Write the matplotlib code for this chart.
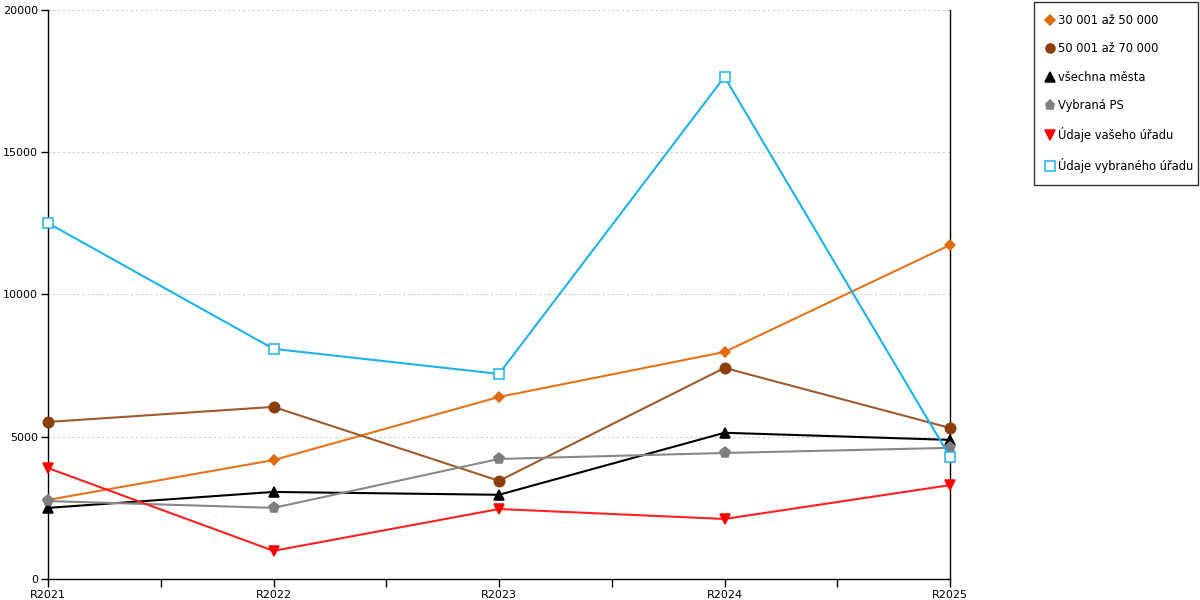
import matplotlib
matplotlib.use("Agg")
import matplotlib.pyplot as plt
from matplotlib.lines import Line2D

categories = ["R2021", "R2022", "R2023", "R2024", "R2025"]
s_30_50 = [2780, 4180, 6400, 7980, 11740]
s_50_70 = [5520, 6050, 3450, 7420, 5310]
s_vsechna = [2500, 3060, 2960, 5140, 4890]
s_vybrana_ps = [2740, 2500, 4220, 4430, 4610]
s_vaseho = [3900, 990, 2460, 2110, 3300]
s_vybraneho = [12510, 8090, 7210, 17650, 4290]

labels = ["30 001 až 50 000", "50 001 až 70 000", "všechna města",
          "Vybraná PS", "Údaje vašeho úřadu", "Údaje vybraného úřadu"]

plt.rcParams['font.family'] = ['DejaVu Sans']
fig = plt.figure(figsize=(12, 6), dpi=100)
ax = fig.add_axes([48/1200, 1-579/600, (950-48)/1200, (579-10)/600])

x = list(range(len(categories)))
styles = [
    (s_30_50, '#E8731A', '#E06A10', 'D', 5.5, 'full'),
    (s_50_70, '#A05A2C', '#8B4009', 'o', 7.5, 'full'),
    (s_vsechna, '#000000', '#000000', '^', 7.5, 'full'),
    (s_vybrana_ps, '#888888', '#7F7F7F', 'p', 8, 'full'),
    (s_vaseho, '#FF2020', '#FF0000', 'v', 7.5, 'full'),
    (s_vybraneho, '#1AB4EA', '#1AB4EA', 's', 6.5, 'none'),
]
handles = []
for (vals, lc, mc, mk, ms, fill), lab in zip(styles, labels):
    mfc = mc if fill == 'full' else 'white'
    ax.plot(x, vals, color=lc, lw=1.5, marker=mk, ms=ms, mfc=mfc, mec=mc,
            mew=1.1, clip_on=False, zorder=3)
    handles.append(Line2D([], [], ls='none', marker=mk, ms=min(ms, 6.5),
                          mfc=mfc, mec=mc, mew=1.1, label=lab))

ax.set_xlim(0, 4)
ax.set_ylim(0, 20000)
ax.set_xticks(x)
ax.set_xticklabels(categories)
ax.set_xticks([0.5, 1.5, 2.5, 3.5], minor=True)
ax.set_yticks([0, 5000, 10000, 15000, 20000])
ax.tick_params(axis='x', which='both', direction='out', length=6, width=1,
               labelsize=8, pad=2, colors='black')
ax.tick_params(axis='y', direction='out', length=5, width=1, labelsize=8, pad=2)
ax.grid(axis='y', color='#C4C4C4', ls=(0, (2, 3)), lw=0.7)
ax.set_axisbelow(True)
ax.spines['top'].set_visible(False)
for sp in ['left', 'right', 'bottom']:
    ax.spines[sp].set_color('black')
    ax.spines[sp].set_linewidth(1)

leg = fig.legend(handles=handles, loc='upper left', mode='expand',
                 bbox_to_anchor=(1034/1200, 1-183/600, 164/1200, 181/600),
                 fontsize=8.3, frameon=True, fancybox=False, edgecolor='black',
                 labelspacing=1.33, handlelength=0.7, handletextpad=0.3,
                 borderpad=1.05, borderaxespad=0)
leg.get_frame().set_linewidth(1)

fig.savefig("out.png", dpi=100)
